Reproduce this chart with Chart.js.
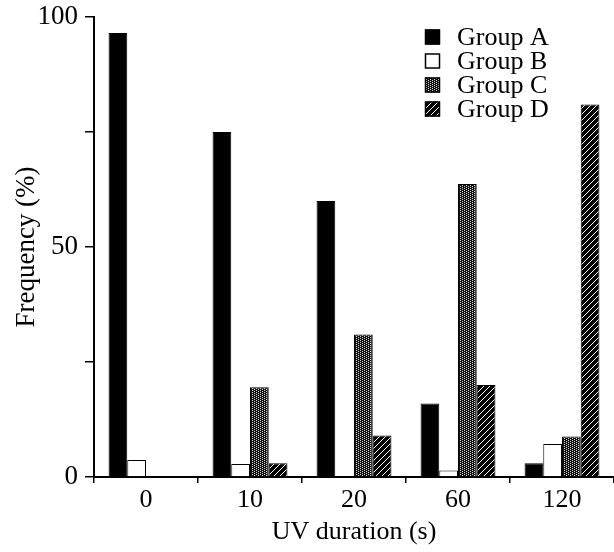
<!DOCTYPE html>
<html>
<head>
<meta charset="utf-8">
<script src="https://cdn.jsdelivr.net/npm/chart.js@4.4.1/dist/chart.umd.min.js"></script>
<style>
  html, body { margin: 0; padding: 0; background: #fff; }
  #wrap { width: 614px; height: 552px; }
</style>
</head>
<body>
<div id="wrap"><canvas id="c" width="614" height="552"></canvas></div>
<script>
const categories = ['0', '10', '20', '60', '120'];
const seriesNames = ['Group A', 'Group B', 'Group C', 'Group D'];
const groupA = [96.5, 75, 60, 16, 3];
const groupB = [3.7, 2.8, 0, 1.4, 7.2];
const groupC = [0, 19.5, 31, 63.7, 8.8];
const groupD = [0, 3, 9, 20, 81];
const yTickLabels = [0, 50, 100];

const FONT = "'Liberation Serif', 'Times New Roman', serif";

function makeDotPattern() {
  const t = document.createElement('canvas');
  t.width = 4; t.height = 4;
  const g = t.getContext('2d');
  g.fillStyle = '#111'; g.fillRect(0, 0, 4, 4);
  g.fillStyle = '#ddd';
  g.fillRect(0, 0, 1, 1); g.fillRect(2, 1, 1, 1);
  g.fillRect(0, 2, 1, 1); g.fillRect(2, 3, 1, 1);
  return g.createPattern(t, 'repeat');
}
function makeHatchPattern() {
  const t = document.createElement('canvas');
  t.width = 6; t.height = 6;
  const g = t.getContext('2d');
  g.fillStyle = '#000'; g.fillRect(0, 0, 6, 6);
  g.strokeStyle = '#fff'; g.lineWidth = 1;
  g.beginPath();
  g.moveTo(-1, 7); g.lineTo(7, -1);
  g.moveTo(-1, 1); g.lineTo(1, -1);
  g.moveTo(5, 7); g.lineTo(7, 5);
  g.stroke();
  return g.createPattern(t, 'repeat');
}

const fills = ['#000', '#fff', makeDotPattern(), makeHatchPattern()];
const values = [groupA, groupB, groupC, groupD];

const datasets = seriesNames.map((name, i) => ({
  label: name,
  data: values[i],
  backgroundColor: fills[i],
  borderColor: '#000',
  borderWidth: 1,
  categoryPercentage: 0.72,
  barPercentage: 1.0
}));

const legendPlugin = {
  id: 'insideLegend',
  afterDraw(chart) {
    const ctx = chart.ctx;
    const area = chart.chartArea;
    const boxX = area.left + 331;
    const textX = area.left + 363;
    const rowY0 = 37;
    const rowGap = 24;
    const box = 15;
    ctx.save();
    ctx.font = '26px ' + FONT;
    ctx.textBaseline = 'middle';
    ctx.textAlign = 'left';
    chart.data.datasets.forEach((ds, i) => {
      const cy = rowY0 + i * rowGap;
      ctx.fillStyle = ds.backgroundColor;
      ctx.fillRect(boxX, cy - box / 2, box, box);
      ctx.strokeStyle = '#000';
      ctx.lineWidth = 1.5;
      ctx.strokeRect(boxX + 0.5, cy - box / 2 + 0.5, box - 1, box - 1);
      ctx.fillStyle = '#000';
      ctx.fillText(ds.label, textX, cy + 1);
    });
    ctx.restore();
  }
};

new Chart(document.getElementById('c'), {
  type: 'bar',
  data: { labels: categories, datasets },
  options: {
    responsive: false,
    animation: false,
    devicePixelRatio: 1,
    layout: { padding: { top: 17, right: 0, left: 0, bottom: 0 } },
    plugins: { legend: { display: false }, tooltip: { enabled: false } },
    scales: {
      x: {
        grid: { display: true, drawOnChartArea: false, drawTicks: true, tickLength: 6, color: '#000', lineWidth: 1.5, offset: true },
        border: { display: true, color: '#000', width: 2 },
        ticks: { color: '#000', font: { family: FONT, size: 26 }, padding: 2, maxRotation: 0 },
        title: { display: true, text: 'UV duration (s)', color: '#000', font: { family: FONT, size: 26 }, padding: { top: 0, bottom: 4 } },
        afterFit: (s) => { s.height = 75; s.paddingLeft = 0; s.paddingRight = 0; }
      },
      y: {
        min: 0, max: 100,
        grid: { display: true, drawOnChartArea: false, drawTicks: true, tickLength: 9, color: '#000', lineWidth: 1.5 },
        border: { display: true, color: '#000', width: 2 },
        ticks: {
          stepSize: 25,
          color: '#000',
          font: { family: FONT, size: 27, lineHeight: 1.0 },
          padding: 7,
          callback: (v) => (yTickLabels.includes(v) ? String(v) : '')
        },
        title: { display: true, text: 'Frequency (%)', color: '#000', font: { family: FONT, size: 27 }, padding: { top: 11, bottom: 0 } },
        afterFit: (s) => { s.width = 94; s.paddingTop = 0; s.paddingBottom = 0; }
      }
    }
  },
  plugins: [legendPlugin]
});
</script>
</body>
</html>
